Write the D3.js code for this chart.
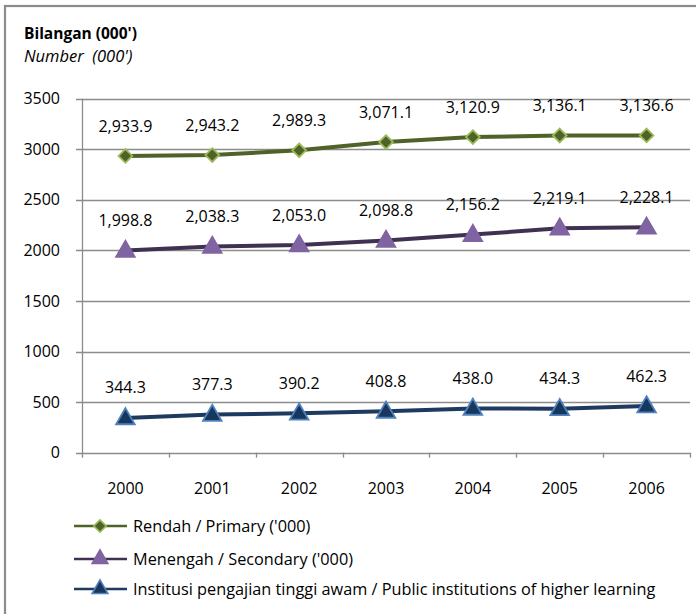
<!DOCTYPE html>
<html>
<head>
<meta charset="utf-8">
<script src="https://cdn.jsdelivr.net/npm/d3@7"></script>
<style>
    body { margin: 0; background: #fff; }
    svg { display: block; font-family: "Open Sans", Lato, sans-serif; }
</style>
</head>
<body>
<div id="chart"></div>
<script>
(function () {
    "use strict";

    const years = ["2000", "2001", "2002", "2003", "2004", "2005", "2006"];
    const primary = [2933.9, 2943.2, 2989.3, 3071.1, 3120.9, 3136.1, 3136.6];
    const secondary = [1998.8, 2038.3, 2053.0, 2098.8, 2156.2, 2219.1, 2228.1];
    const higher = [344.3, 377.3, 390.2, 408.8, 438.0, 434.3, 462.3];
    const yTicks = [0, 500, 1000, 1500, 2000, 2500, 3000, 3500];
    const seriesNames = [
        "Rendah / Primary ('000)",
        "Menengah / Secondary ('000)",
        "Institusi pengajian tinggi awam / Public institutions of higher learning"
    ];

    const width = 696;
    const height = 614;
    const margin = { top: 98.7, right: 6, bottom: 161.3, left: 82 };

    const series = [
        { name: seriesNames[0], values: primary, line: "#4f6228", fill: "#4f6228", stroke: "#9bbb59", shape: "diamond" },
        { name: seriesNames[1], values: secondary, line: "#3f3151", fill: "#8064a2", stroke: "#8064a2", shape: "triangle" },
        { name: seriesNames[2], values: higher, line: "#1f3a60", fill: "#17375e", stroke: "#4f81bd", shape: "triangle" }
    ];

    const svg = d3.select("#chart").append("svg")
        .attr("width", width)
        .attr("height", height);

    // outer chart border (cut off at right and bottom)
    svg.append("rect")
        .attr("x", 5)
        .attr("y", 6)
        .attr("width", width + 10)
        .attr("height", height + 10)
        .attr("fill", "none")
        .attr("stroke", "#8c8c8c")
        .attr("stroke-width", 2.2);

    svg.append("text")
        .attr("x", 24)
        .attr("y", 39)
        .attr("font-size", 15.5)
        .attr("font-weight", "bold")
        .text("Bilangan (000')");

    svg.append("text")
        .attr("x", 24)
        .attr("y", 62)
        .attr("font-size", 16.5)
        .attr("font-style", "italic")
        .style("white-space", "pre")
        .text("Number  (000')");

    const x = d3.scaleBand()
        .domain(years)
        .range([margin.left, width - margin.right]);

    const y = d3.scaleLinear()
        .domain([0, 3500])
        .range([height - margin.bottom, margin.top]);

    const xMid = d => x(d) + x.bandwidth() / 2;

    // horizontal gridlines with outside ticks
    svg.append("g")
        .selectAll("line")
        .data(yTicks)
        .join("line")
        .attr("x1", margin.left - 6)
        .attr("x2", width - margin.right)
        .attr("y1", d => Math.round(y(d)) + 0.5)
        .attr("y2", d => Math.round(y(d)) + 0.5)
        .attr("stroke", "#8c8c8c")
        .attr("stroke-width", 1.3);

    svg.append("g")
        .selectAll("text")
        .data(yTicks)
        .join("text")
        .attr("x", 60)
        .attr("y", d => y(d))
        .attr("dy", "0.35em")
        .attr("text-anchor", "end")
        .attr("font-size", 16)
        .text(d => d);

    // vertical axis line
    svg.append("line")
        .attr("x1", margin.left + 0.5)
        .attr("x2", margin.left + 0.5)
        .attr("y1", y(3500))
        .attr("y2", y(0) + 5)
        .attr("stroke", "#8c8c8c")
        .attr("stroke-width", 1.3);

    // category ticks between years
    const tickXs = years.map(d => x(d)).concat([x(years[years.length - 1]) + x.bandwidth()]);
    svg.append("g")
        .selectAll("line")
        .data(tickXs.slice(1))
        .join("line")
        .attr("x1", d => Math.round(d) + 0.5)
        .attr("x2", d => Math.round(d) + 0.5)
        .attr("y1", y(0))
        .attr("y2", y(0) + 5)
        .attr("stroke", "#8c8c8c")
        .attr("stroke-width", 1.3);

    svg.append("g")
        .selectAll("text")
        .data(years)
        .join("text")
        .attr("x", xMid)
        .attr("y", 488)
        .attr("dy", "0.35em")
        .attr("text-anchor", "middle")
        .attr("font-size", 16)
        .text(d => d);

    const line = d3.line()
        .x((d, i) => xMid(years[i]))
        .y(d => y(d));

    const diamond = d3.symbol().type(d3.symbolDiamond2).size(120);
    const triangle = d3.symbol().type(d3.symbolTriangle).size(150);

    function marker(g, s) {
        return g.append("path")
            .attr("d", s.shape === "diamond" ? diamond() : triangle())
            .attr("fill", s.fill)
            .attr("stroke", s.stroke)
            .attr("stroke-width", 1.8);
    }

    const fmt = d3.format(",.1f");

    series.forEach(s => {
        const g = svg.append("g");

        g.append("path")
            .datum(s.values)
            .attr("d", line)
            .attr("fill", "none")
            .attr("stroke", s.line)
            .attr("stroke-width", 4);

        s.values.forEach((v, i) => {
            const m = g.append("g")
                .attr("transform", `translate(${xMid(years[i])},${y(v) + (s.shape === "triangle" ? 1 : 0)})`);
            marker(m, s);
        });

        g.selectAll("text")
            .data(s.values)
            .join("text")
            .attr("x", (d, i) => xMid(years[i]))
            .attr("y", d => y(d) - 30)
            .attr("dy", "0.35em")
            .attr("text-anchor", "middle")
            .attr("font-size", 16)
            .text(d => fmt(d));
    });

    // legend
    const legendY = [526, 559, 589];
    series.forEach((s, i) => {
        const g = svg.append("g")
            .attr("transform", `translate(0,${legendY[i]})`);

        g.append("line")
            .attr("x1", 74)
            .attr("x2", 127)
            .attr("stroke", s.line)
            .attr("stroke-width", 2.5);

        const m = g.append("g")
            .attr("transform", s.shape === "triangle" ? "translate(100,0) scale(0.85)" : "translate(100,0) scale(0.9)");
        marker(m, s);

        g.append("text")
            .attr("x", 133)
            .attr("dy", "0.35em")
            .attr("font-size", 16.3)
            .text(s.name);
    });
}());
</script>
</body>
</html>
